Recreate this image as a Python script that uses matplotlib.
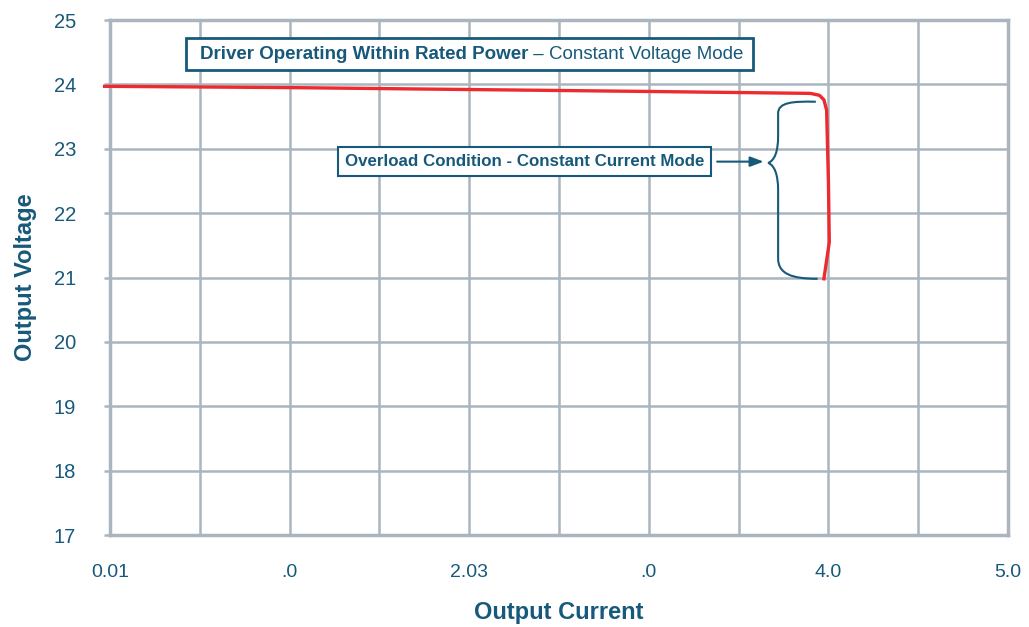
import matplotlib.pyplot as plt
from matplotlib.patches import Rectangle, PathPatch
from matplotlib.path import Path

plt.rcParams['font.family'] = ['Liberation Sans', 'DejaVu Sans']

# curve
current = [-0.03, 1.0, 2.0, 3.0, 3.6, 3.9, 3.95, 3.975, 3.99, 4.0, 4.005, 3.975]
voltage = [23.97, 23.95, 23.92, 23.89, 23.87, 23.86, 23.83, 23.76, 23.6, 22.5, 21.55, 20.98]

xticks = [0, 1, 2, 3, 4, 5]
xticklabels = ['0.01', '.0', '2.03', '.0', '4.0', '5.0']
yticks = [17, 18, 19, 20, 21, 22, 23, 24, 25]

teal = '#17597a'
gridc = '#aab5bf'
red = '#ee2a2e'

fig = plt.figure(figsize=(10.29, 6.27), dpi=100)
ax = fig.add_axes([0.1069, 0.1467, 0.8727, 0.8214])

ax.plot(current, voltage, color=red, lw=2.4, clip_on=False, zorder=5,
        solid_joinstyle='round')

ax.set_xlim(0, 5)
ax.set_ylim(17, 25)
ax.set_xticks(xticks)
ax.set_xticklabels(xticklabels)
ax.set_xticks([0.5, 1.5, 2.5, 3.5, 4.5], minor=True)
ax.set_yticks(yticks)
ax.grid(True, which='both', color=gridc, lw=1.8)
ax.set_axisbelow(True)
for s in ax.spines.values():
    s.set_color(gridc)
    s.set_linewidth(2.5)
ax.tick_params(axis='x', which='both', length=0, pad=21, labelsize=14, labelcolor=teal)
ax.tick_params(axis='y', length=4.5, width=1.8, color=gridc, pad=20, labelsize=14.5, labelcolor=teal)

ax.set_xlabel('Output Current', fontsize=17, fontweight='bold', color=teal, labelpad=14)
ax.set_ylabel('Output Voltage', fontsize=17, fontweight='bold', color=teal, labelpad=12)

# top annotation box
ax.add_patch(Rectangle((0.423, 24.22), 3.157, 0.5, fill=True, fc='white', ec=teal, lw=2, zorder=6))
t1 = ax.text(0.50, 24.47, 'Driver Operating Within Rated Power', fontsize=13.5, fontweight='bold',
             color=teal, ha='left', va='center', zorder=7)
ax.annotate(' \u2013 Constant Voltage Mode', xy=(1, 0.5), xycoords=t1, fontsize=13.5, color=teal,
            ha='left', va='center', zorder=7)

# overload box + arrow
ax.text(2.31, 22.8, 'Overload Condition - Constant Current Mode', fontsize=12.2, fontweight='bold',
        color=teal, ha='center', va='center', zorder=7,
        bbox=dict(boxstyle='square,pad=0.4', fc='white', ec=teal, lw=1.5))
ax.annotate('', xy=(3.655, 22.8), xytext=(3.365, 22.8),
            arrowprops=dict(arrowstyle='-|>,head_length=0.8,head_width=0.3', color=teal, lw=1.5))

# curly brace
verts = [(3.93, 23.73),
         (3.80, 23.74), (3.72, 23.72), (3.72, 23.55),
         (3.72, 23.2),
         (3.72, 22.95), (3.70, 22.82), (3.665, 22.78),
         (3.70, 22.74), (3.72, 22.6), (3.72, 22.35),
         (3.72, 21.3),
         (3.72, 21.05), (3.80, 20.98), (3.94, 20.98)]
codes = [Path.MOVETO,
         Path.CURVE4, Path.CURVE4, Path.CURVE4,
         Path.LINETO,
         Path.CURVE4, Path.CURVE4, Path.CURVE4,
         Path.CURVE4, Path.CURVE4, Path.CURVE4,
         Path.LINETO,
         Path.CURVE4, Path.CURVE4, Path.CURVE4]
ax.add_patch(PathPatch(Path(verts, codes), fill=False, ec=teal, lw=1.5, zorder=6))

plt.savefig('out.png', dpi=100)
